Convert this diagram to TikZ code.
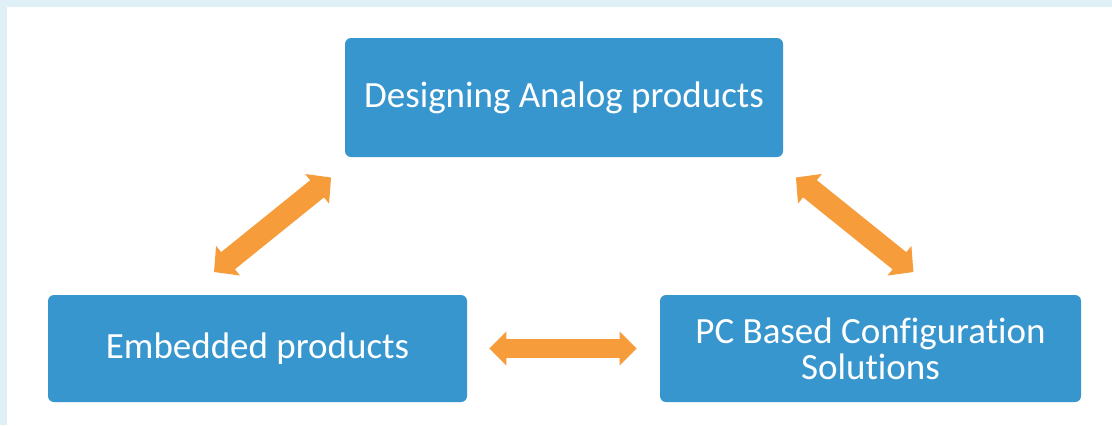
\documentclass[tikz,border=0pt]{standalone}
\usepackage{fontspec}
\setmainfont{Carlito}[Ligatures=NoCommon]
\usetikzlibrary{arrows.meta}
\definecolor{boxblue}{HTML}{3796CE}
\definecolor{linkorange}{HTML}{F79C3B}
\definecolor{framecyan}{HTML}{DFF0F7}
\tikzstyle{link}=[draw=linkorange, line width=9.5pt, {Triangle[length=8.5pt,width=16.5pt]}-{Triangle[length=8.5pt,width=16.5pt]}]
\tikzstyle{slantlink}=[draw=linkorange, line width=11pt, {Triangle[length=9pt,width=18.5pt]}-{Triangle[length=9pt,width=18.5pt]}]
\tikzstyle{block}=[rectangle, rounded corners=3pt, fill=boxblue, text=white, inner sep=0pt, font=\fontsize{18.5pt}{18pt}\selectfont, align=center]
\tikzstyle{frame}=[fill=framecyan]

\begin{document}
\begin{tikzpicture}[x=0.5pt,y=-0.5pt]
				%The canvas
				\useasboundingbox (0,0) rectangle (1112,425);
				\fill[white] (0,0) rectangle (1112,425);
				\fill[frame] (0,0) rectangle (1112,7);
				\fill[frame] (0,0) rectangle (7,425);
				
				%The boxes
				\draw (564,97.5) node[block, minimum width=219pt, minimum height=59.5pt] (design) {Designing Analog products};
				\draw (257.5,348.5) node[block, minimum width=209.5pt, minimum height=53.5pt] (embedded) {Embedded products};
				\draw (870.5,348.5) node[block, minimum width=210.5pt, minimum height=53.5pt] (pcbased) {PC Based Configuration\\Solutions};
				
				%The links
				\draw[slantlink, shorten <=18pt, shorten >=16pt] ([xshift=-35.75pt]embedded.north) -- ([xshift=-104pt]design.south);
				\draw[slantlink, shorten <=16pt, shorten >=18pt] ([xshift=103.5pt]design.south) -- ([xshift=35.5pt]pcbased.north);
				\draw[link, shorten <=11pt, shorten >=11.5pt] (embedded.east) -- (pcbased.west);
			\end{tikzpicture}
\end{document}
